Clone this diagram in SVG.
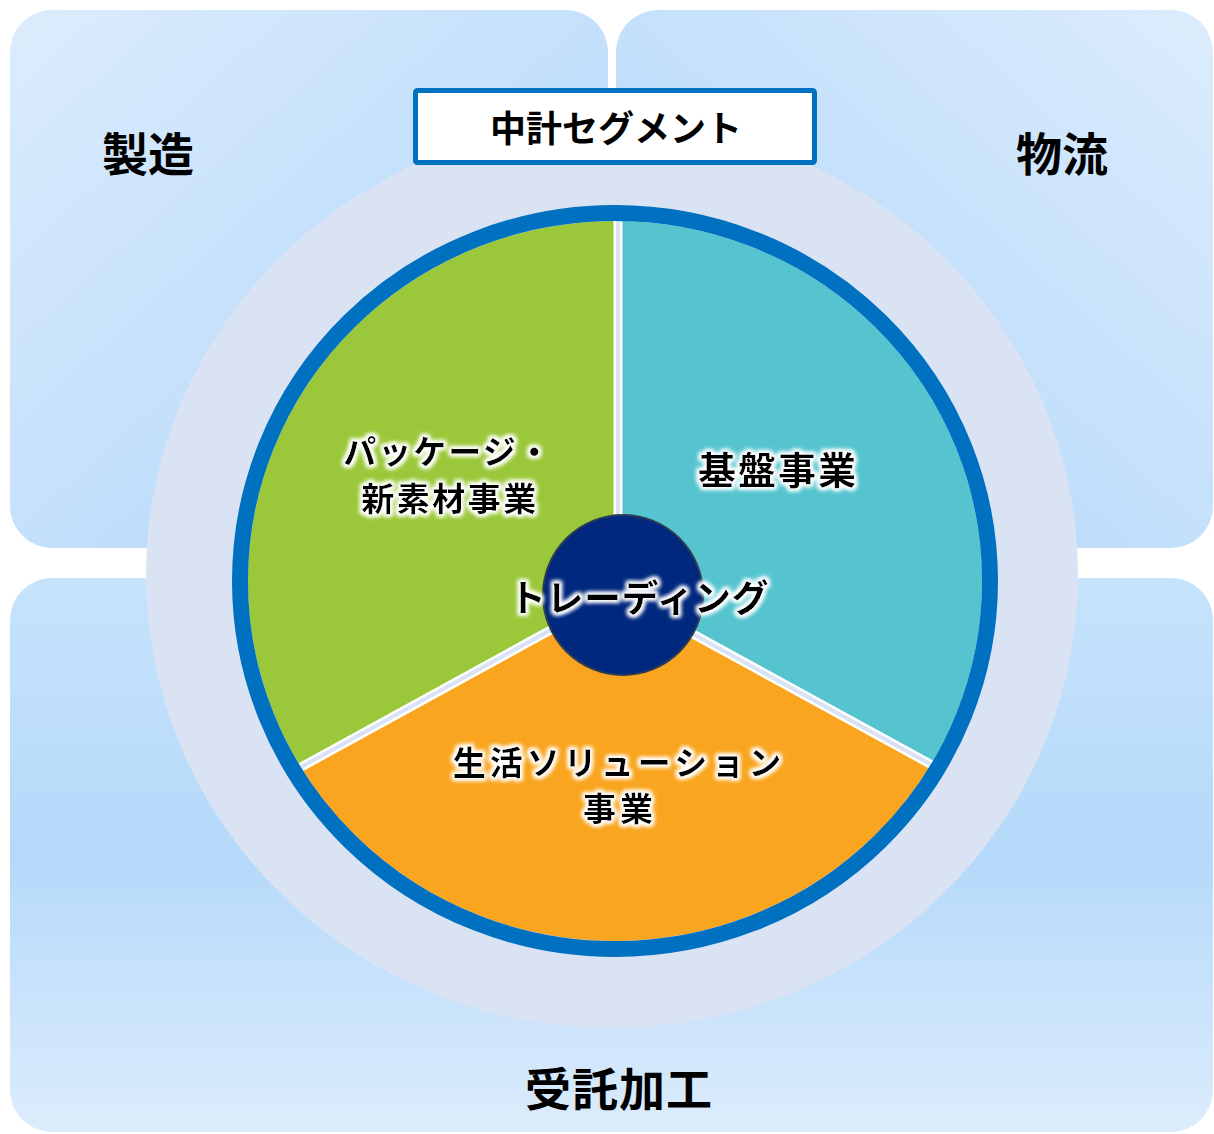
<svg xmlns="http://www.w3.org/2000/svg" width="1214" height="1134" viewBox="0 0 1214 1134">
<style>
.quad{font-family:"Noto Sans CJK JP","Noto Sans",sans-serif;font-weight:700;font-size:46px;fill:#000;text-anchor:middle}
.seg{font-family:"Noto Sans CJK JP","Noto Sans",sans-serif;font-weight:700;fill:#000;text-anchor:middle;filter:url(#glow)}
.title{font-family:"Noto Sans CJK JP","Noto Sans",sans-serif;font-weight:700;font-size:36px;fill:#000;text-anchor:middle}
.sepW{stroke:#fff;stroke-width:9;fill:none}
.sepL{stroke:#DAE3F3;stroke-width:4;fill:none}
</style>
<defs>
<linearGradient id="gTL" x1="0" y1="0" x2="1" y2="1">
<stop offset="0" stop-color="#DCECFC"/><stop offset="1" stop-color="#ACD4FA"/>
</linearGradient>
<linearGradient id="gTR" x1="1" y1="0" x2="0" y2="1">
<stop offset="0" stop-color="#DCECFC"/><stop offset="1" stop-color="#ACD4FA"/>
</linearGradient>
<linearGradient id="gB" x1="0" y1="0" x2="0" y2="1">
<stop offset="0" stop-color="#C6E3FC"/><stop offset="0.5" stop-color="#B5D9FA"/><stop offset="1" stop-color="#DCECFC"/>
</linearGradient>
<clipPath id="pieClip"><ellipse cx="615" cy="581" rx="367" ry="360"/></clipPath>
<filter id="glow" x="-20%" y="-40%" width="140%" height="180%">
<feMorphology in="SourceAlpha" operator="dilate" radius="2" result="d"/>
<feGaussianBlur in="d" stdDeviation="2" result="b"/>
<feFlood flood-color="#ffffff"/>
<feComposite in2="b" operator="in" result="g"/>
<feMerge><feMergeNode in="g"/><feMergeNode in="g"/><feMergeNode in="SourceGraphic"/></feMerge>
</filter>
</defs>
<rect width="1214" height="1134" fill="#fff"/>
<g id="quad-manufacturing">
<rect x="10" y="10" width="598" height="538" rx="42" fill="url(#gTL)"/>
<text class="quad" x="148" y="171">製造</text>
</g>
<g id="quad-logistics">
<rect x="616" y="10" width="597" height="538" rx="42" fill="url(#gTR)"/>
<text class="quad" x="1062" y="171">物流</text>
</g>
<g id="quad-contract">
<rect x="10" y="578" width="1203" height="554" rx="42" fill="url(#gB)"/>
<text class="quad" x="619" y="1106" letter-spacing="1">受託加工</text>
</g>
<g id="outer-circle">
<ellipse cx="612" cy="575" rx="466" ry="453" fill="#DAE3F3"/>
</g>
<g id="pie" clip-path="url(#pieClip)">
<ellipse cx="615" cy="581" rx="367" ry="360" fill="#DAE3F3"/>
<g id="seg-package"><polygon points="618,593 618,150 150,150 150,850" fill="#9BC83B"/></g>
<g id="seg-base"><polygon points="618,593 618,150 1100,150 1100,857" fill="#56C4CF"/></g>
<g id="seg-life"><polygon points="618,593 150,850 150,1000 1100,1000 1100,857" fill="#F9A51F"/></g>
</g>
<g id="connectors" clip-path="url(#pieClip)">
<path class="sepW" d="M618,593 V150 M618,593 L150,850 M618,593 L1100,857"/>
<path class="sepL" d="M618,593 V150 M618,593 L150,850 M618,593 L1100,857"/>
</g>
<g id="ring">
<ellipse cx="615" cy="581" rx="375" ry="368" fill="none" stroke="#0070C0" stroke-width="16"/>
</g>
<g id="labels">
<text class="seg" x="448" y="464" font-size="33" letter-spacing="2">パッケージ・</text>
<text class="seg" x="450" y="511" font-size="33" letter-spacing="2.5">新素材事業</text>
<text class="seg" x="778" y="484" font-size="38" letter-spacing="2">基盤事業</text>
<text class="seg" x="619" y="775" font-size="33" letter-spacing="4">生活ソリューション</text>
<text class="seg" x="620" y="821" font-size="33" letter-spacing="4">事業</text>
</g>
<g id="trading">
<circle cx="623" cy="595" r="80" fill="#00287E" stroke="#2E3D55" stroke-width="2"/>
<text class="seg" x="639" y="612" font-size="37" letter-spacing="0.5">トレーディング</text>
</g>
<g id="title">
<rect x="415.5" y="90.5" width="399" height="72" rx="2" fill="#fff" stroke="#0070C0" stroke-width="5"/>
<text class="title" x="616" y="142">中計セグメント</text>
</g>
</svg>
